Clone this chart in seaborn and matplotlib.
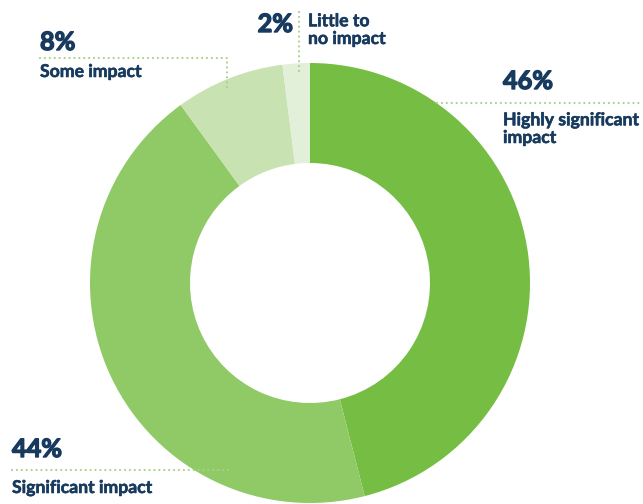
import matplotlib
matplotlib.use("Agg")
import matplotlib.pyplot as plt
import matplotlib.patheffects as pe
import seaborn as sns

# Data
categories = ["Highly significant\nimpact", "Significant impact", "Some impact", "Little to\nno impact"]
values = [46, 44, 8, 2]
pct_labels = ["46%", "44%", "8%", "2%"]
colors = ["#76bd43", "#8fca67", "#c8e2b2", "#e2efd9"]

sns.set_theme(style="white")
plt.rcParams['font.family'] = ['Lato', 'DejaVu Sans']

W, H = 643, 504
fig = plt.figure(figsize=(W / 100, H / 100), dpi=100)
ax = fig.add_axes([0, 0, 1, 1])

cx, cy = 310, H - 283
ax.pie(values, colors=colors, startangle=90, counterclock=False,
       radius=220, center=(cx, cy),
       wedgeprops=dict(width=100, edgecolor='none', linewidth=0))

ax.set_xlim(0, W)
ax.set_ylim(0, H)
ax.set_aspect('auto')
ax.axis('off')

navy = "#173a5e"
dot_color = "#a9d18e"
dot_kw = dict(color=dot_color, linewidth=1.6, linestyle=(0, (0.01, 2.2)),
              dash_capstyle='round', solid_capstyle='round')

def Y(py):
    return H - py

# Leader lines
ax.plot([437, 643], [Y(102.5), Y(102.5)], **dot_kw)            # 46%
ax.plot([40, 227, 227], [Y(58), Y(58), Y(89)], **dot_kw)       # 8%
ax.plot([299, 299], [Y(12), Y(73)], **dot_kw)                  # 2%
ax.plot([12, 230], [Y(470), Y(470)], **dot_kw)                 # 44%

pct_fx = [pe.withStroke(linewidth=1.0, foreground=navy)]
lab_fx = [pe.withStroke(linewidth=0.4, foreground=navy)]
pct_kw = dict(color=navy, fontsize=18.2, fontweight='bold', va='baseline', ha='left',
              path_effects=pct_fx)
lab_kw = dict(color=navy, fontsize=12.7, fontweight='bold', va='baseline', ha='left',
              linespacing=1.05, path_effects=lab_fx)

# 46%
ax.text(503, Y(89), pct_labels[0], **pct_kw)
ax.text(503, Y(143), categories[0], **lab_kw)
# 44%
ax.text(12, Y(457), pct_labels[1], **pct_kw)
ax.text(12, Y(493), categories[1], **lab_kw)
# 8%
ax.text(40, Y(50), pct_labels[2], **pct_kw)
ax.text(40, Y(77), categories[2], **lab_kw)
# 2%
ax.text(293, Y(32), pct_labels[3], color=navy, fontsize=18.2, fontweight='bold',
        va='baseline', ha='right', path_effects=pct_fx)
ax.text(308, Y(44), categories[3], **lab_kw)

fig.savefig("out.png", dpi=100)
